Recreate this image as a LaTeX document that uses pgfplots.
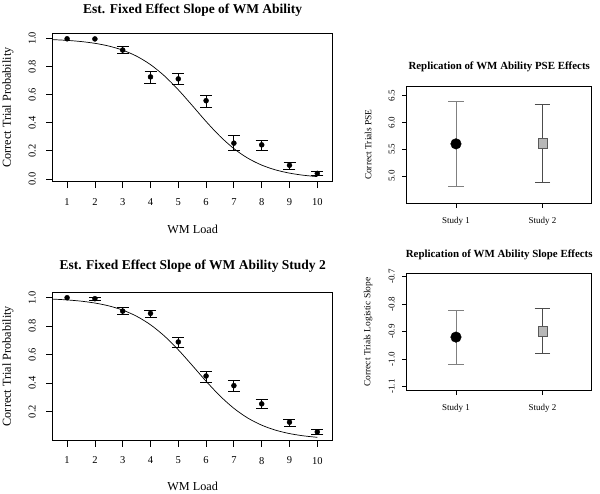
\documentclass[border=0pt]{standalone}
\usepackage{pgfplots}
\pgfplotsset{compat=1.18}
\usepackage{pgfplotstable}
\usepackage{fontspec}
\setmainfont{Liberation Serif}

% Study 1 observed points (load, prob, err+, err-)
\pgfplotstableread{
x y ep em
3 0.917 0.028 0.027
4 0.726 0.041 0.043
5 0.712 0.038 0.043
6 0.557 0.038 0.045
7 0.255 0.052 0.055
8 0.243 0.033 0.041
9 0.098 0.019 0.029
10 0.040 0.012 0.016
}\studyA
\pgfplotstableread{
x y
1 0.997
2 0.996
}\studyAnoerr
% Study 1 fitted logistic curve (read values)
\pgfplotstableread{
x y
0.5 0.9909
1.0 0.9857
1.5 0.9775
2.0 0.9648
2.5 0.9454
3.0 0.9162
3.5 0.8734
4.0 0.8133
4.5 0.7334
5.0 0.6345
5.5 0.5230
6.0 0.4090
6.5 0.3041
7.0 0.2162
7.5 0.1483
8.0 0.0990
8.5 0.0649
9.0 0.0420
9.5 0.0269
10.0 0.0172
}\fitA

% Study 2 observed points
\pgfplotstableread{
x y ep em
2 0.993 0.012 0.012
3 0.906 0.024 0.023
4 0.890 0.021 0.026
5 0.689 0.033 0.038
6 0.450 0.033 0.042
7 0.382 0.038 0.039
8 0.254 0.030 0.035
9 0.125 0.021 0.028
10 0.057 0.017 0.016
}\studyB
\pgfplotstableread{
x y
1 1.000
}\studyBnoerr
\pgfplotstableread{
x y
0.5 0.9900
1.0 0.9845
1.5 0.9759
2.0 0.9626
2.5 0.9426
3.0 0.9129
3.5 0.8698
4.0 0.8099
4.5 0.7309
5.0 0.6340
5.5 0.5247
6.0 0.4131
6.5 0.3098
7.0 0.2225
7.5 0.1543
8.0 0.1042
8.5 0.0691
9.0 0.0452
9.5 0.0293
10.0 0.0189
}\fitB

\pgfplotsset{
  rbase/.style={
    scale only axis,
    axis line style={line width=0.8pt},
    tick align=outside,
    tick pos=left,
    every tick/.style={black, line width=0.8pt},
    /pgf/number format/assume math mode=true,
    yticklabel style={rotate=90, anchor=south},
  },
  leftpanel/.style={
    rbase,
    width=280pt,
    xmin=0.482, xmax=10.554,
    xtick={1,2,3,4,5,6,7,8,9,10},
    major tick length=6.5pt,
    tick label style={font=\fontsize{10.5}{12}\selectfont},
    xticklabel shift=7pt,
    yticklabel shift=7pt,
    yticklabel style={/pgf/number format/.cd, fixed, fixed zerofill, precision=1},
    title style={at={(0.5,1)}, anchor=center, font=\bfseries\fontsize{13.5}{16}\selectfont},
    label style={font=\fontsize{12.2}{14}\selectfont},
    xlabel={WM Load},
    ylabel={Correct Trial Probability},
  },
  rightpanel/.style={
    rbase,
    width=185pt, height=117.3pt,
    xmin=0.43, xmax=2.57,
    xtick={1,2}, xticklabels={Study 1, Study 2},
    major tick length=4.5pt,
    tick label style={font=\fontsize{9}{11}\selectfont},
    xticklabel shift=6pt,
    yticklabel shift=4pt,
    title style={at={(0.5,1)}, anchor=center, font=\bfseries\fontsize{10.9}{13}\selectfont},
    label style={font=\fontsize{9.4}{11}\selectfont},
    ylabel style={at={(axis description cs:-0.209,0.5)}, anchor=center},
  },
}

\begin{document}
\begin{tikzpicture}
\path[use as bounding box] (0pt,0pt) rectangle (600pt,-493pt);

% ---------- top left ----------
\begin{axis}[leftpanel,
  at={(52.7pt,-33.3pt)}, anchor=north west,
  height=148.4pt,
  ymin=-0.019, ymax=1.036,
  ytick={0,0.2,0.4,0.6,0.8,1.0},
  title={Est. Fixed Effect Slope of WM Ability},
  title style={yshift=17pt},
  xlabel style={at={(axis description cs:0.5,-0.3235)}, anchor=center},
  ylabel style={at={(axis description cs:-0.1596,0.5)}, anchor=center},
]
\addplot[black, line width=0.7pt, smooth, mark=none] table[x=x,y=y] {\fitA};
\addplot[only marks, mark=*, mark size=2.5pt, black,
  error bars/.cd, y dir=both, y explicit,
  error bar style={line width=0.9pt, black},
  error mark options={rotate=90, mark size=6pt, line width=0.9pt, black}]
  table[x=x, y=y, y error plus=ep, y error minus=em] {\studyA};
\addplot[only marks, mark=*, mark size=2.5pt, black] table[x=x,y=y] {\studyAnoerr};
\end{axis}

% ---------- bottom left ----------
\begin{axis}[leftpanel,
  at={(52.7pt,-292.3pt)}, anchor=north west,
  height=147.7pt,
  ymin=0.0, ymax=1.038,
  ytick={0.2,0.4,0.6,0.8,1.0},
  title={Est. Fixed Effect Slope of WM Ability Study 2},
  title style={yshift=20pt},
  xlabel style={at={(axis description cs:0.5,-0.315)}, anchor=center},
  ylabel style={at={(axis description cs:-0.1596,0.5)}, anchor=center},
]
\addplot[black, line width=0.7pt, smooth, mark=none] table[x=x,y=y] {\fitB};
\addplot[only marks, mark=*, mark size=2.5pt, black,
  error bars/.cd, y dir=both, y explicit,
  error bar style={line width=0.9pt, black},
  error mark options={rotate=90, mark size=6pt, line width=0.9pt, black}]
  table[x=x, y=y, y error plus=ep, y error minus=em] {\studyB};
\addplot[only marks, mark=*, mark size=2.5pt, black] table[x=x,y=y] {\studyBnoerr};
\end{axis}

% ---------- top right: PSE ----------
\begin{axis}[rightpanel,
  at={(406.7pt,-86pt)}, anchor=north west,
  ymin=4.49, ymax=6.68,
  ytick={5.0,5.5,6.0,6.5},
  yticklabels={5.0,5.5,6.0,6.5},
  title={Replication of WM Ability PSE Effects},
  title style={yshift=13.5pt},
  ylabel={Correct Trials PSE},
]
\addplot[only marks, mark=*, mark size=5.3pt, black,
  error bars/.cd, y dir=both, y explicit,
  error bar style={line width=0.8pt, black!50},
  error mark options={rotate=90, mark size=7.8pt, line width=0.8pt, black!50}]
  coordinates {(1,5.60) +- (0,0.8)} ;
\addplot[only marks, mark=square*, mark size=4.7pt, black!65, fill=black!28,
  error bars/.cd, y dir=both, y explicit,
  error bar style={line width=0.8pt, black!70},
  error mark options={rotate=90, mark size=7.8pt, line width=0.8pt, black!70}]
  coordinates {(2,5.61) +- (0,0.725)};
\end{axis}

% ---------- bottom right: slope ----------
\begin{axis}[rightpanel,
  at={(406.7pt,-273.3pt)}, anchor=north west,
  height=117.4pt,
  ymin=-1.115, ymax=-0.688,
  ytick={-1.1,-1.0,-0.9,-0.8,-0.7},
  yticklabels={-1.1,-1.0,-0.9,-0.8,-0.7},
  title={Replication of WM Ability Slope Effects},
  title style={yshift=12.8pt},
  ylabel={Correct Trials Logistic Slope},
]
\addplot[only marks, mark=*, mark size=5.3pt, black,
  error bars/.cd, y dir=both, y explicit,
  error bar style={line width=0.8pt, black!50},
  error mark options={rotate=90, mark size=7.8pt, line width=0.8pt, black!50}]
  coordinates {(1,-0.920) +- (0,0.098)};
\addplot[only marks, mark=square*, mark size=4.7pt, black!65, fill=black!28,
  error bars/.cd, y dir=both, y explicit,
  error bar style={line width=0.8pt, black!70},
  error mark options={rotate=90, mark size=7.8pt, line width=0.8pt, black!70}]
  coordinates {(2,-0.898) +- (0,0.0815)};
\end{axis}
\end{tikzpicture}
\end{document}
